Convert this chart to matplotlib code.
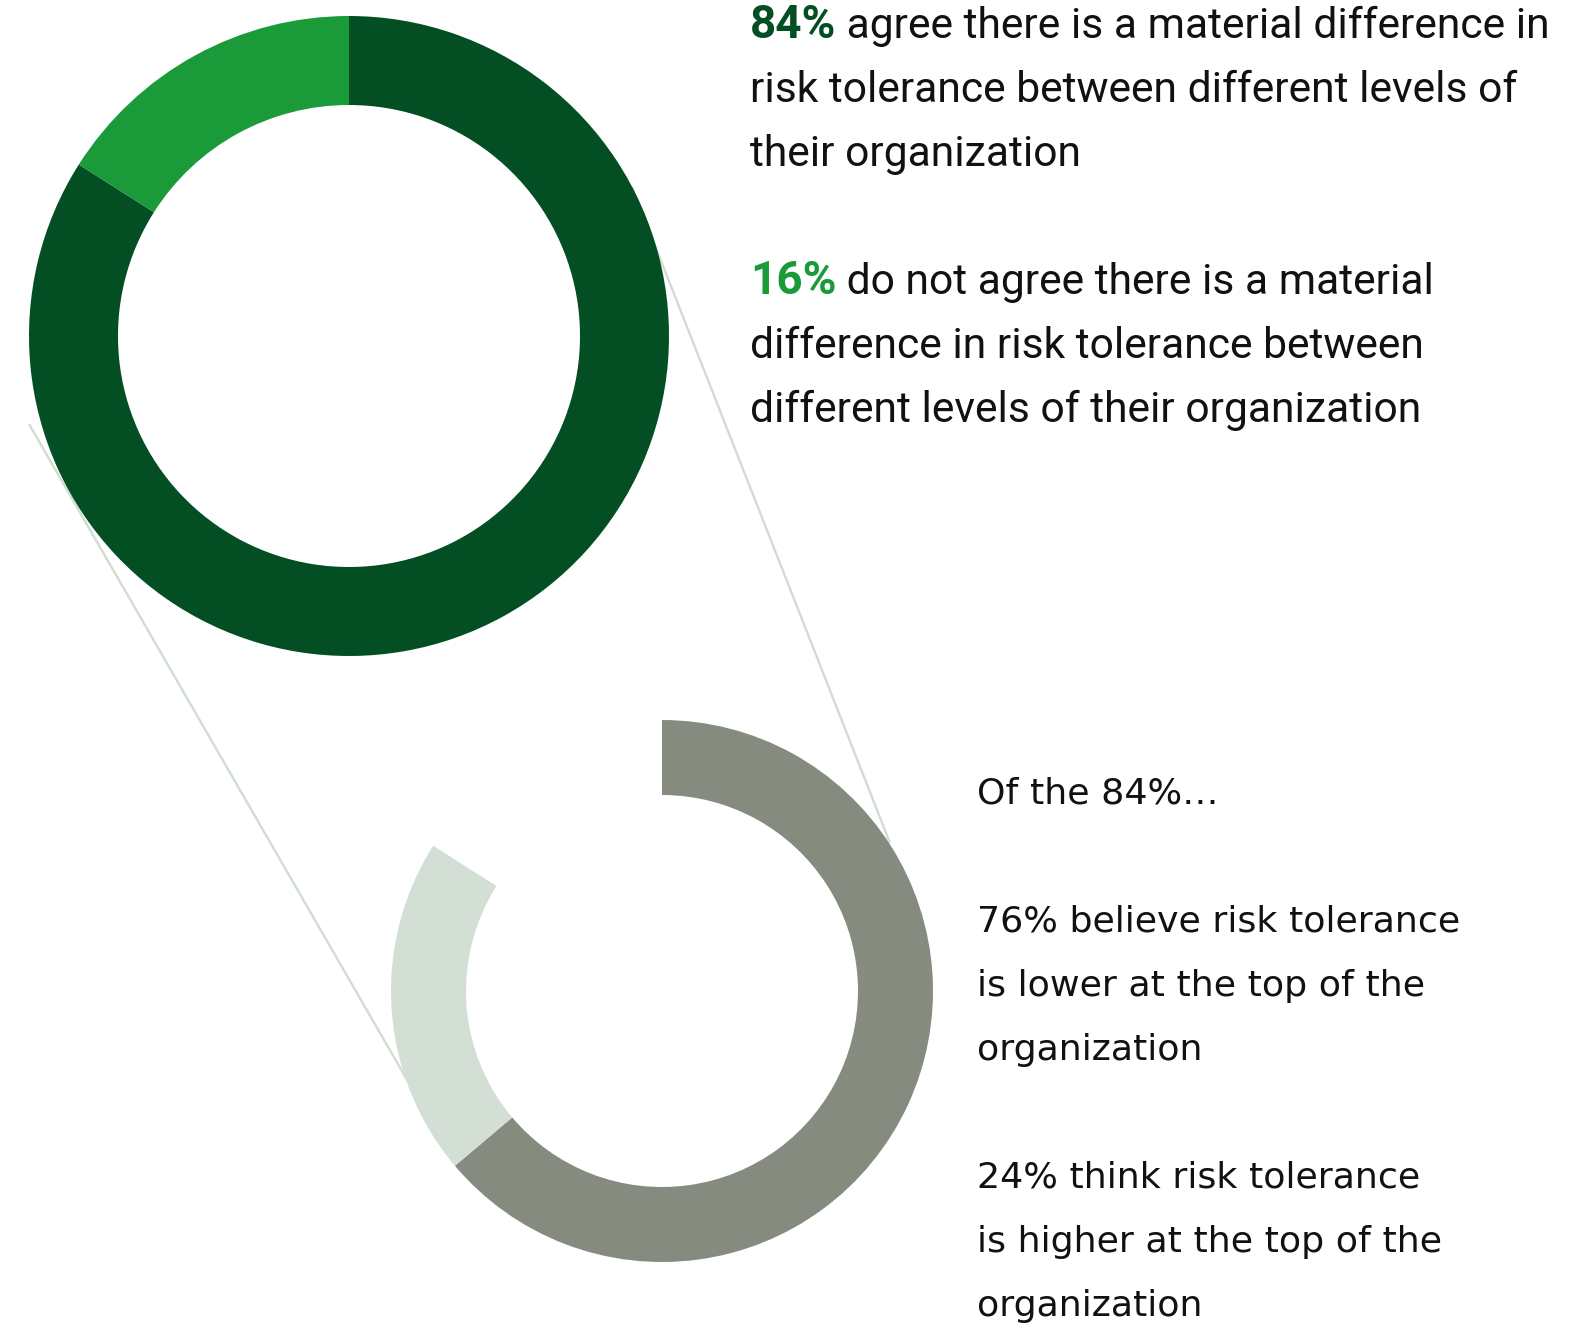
import matplotlib
matplotlib.use("Agg")
import matplotlib.pyplot as plt

W, H = 1569, 1332

# survey shares (percent)
agree_split = [84, 16]
top_colors = ["#034f23", "#1a9a38"]

# breakdown of the 84% who agree
direction_split = [76, 24]
bottom_colors = ["#868b7f", "#d3dfd5"]

top_lead = ["84%", "16%"]
top_lead_colors = ["#034f23", "#1a9a38"]
top_lines = [
    [" agree there is a material difference in",
     "risk tolerance between different levels of",
     "their organization"],
    [" do not agree there is a material",
     "difference in risk tolerance between",
     "different levels of their organization"],
]
bottom_lines = [
    "Of the 84%\u2026",
    "",
    "76% believe risk tolerance",
    "is lower at the top of the",
    "organization",
    "",
    "24% think risk tolerance",
    "is higher at the top of the",
    "organization",
]

TOP_FONT = "Roboto"
BOTTOM_FONT = "DejaVu Sans"


def py(y):
    return H - y


fig = plt.figure(figsize=(W / 100, H / 100), dpi=100)
ax = fig.add_axes([0, 0, 1, 1])

# connector lines between the two rings
line_kw = dict(color="#d0ddd2", linewidth=1.7, zorder=0, solid_capstyle="butt")
ax.plot([29, 410], [py(424), py(1085)], **line_kw)
ax.plot([632, 890], [py(187), py(843)], **line_kw)

# top ring: agree vs. not agree
ax.pie(agree_split, colors=top_colors, startangle=90, counterclock=False,
       radius=320, center=(349, py(336)),
       wedgeprops=dict(width=89, edgecolor="none"))

# bottom ring: the agree share split by direction, rest left blank
agree = agree_split[0]
shares = [d * agree / 100 for d in direction_split] + [100 - agree]
ax.pie(shares, colors=bottom_colors + ["none"], startangle=90, counterclock=False,
       radius=271, center=(662, py(991)),
       wedgeprops=dict(width=75, edgecolor="none"))

ax.set_xlim(0, W)
ax.set_ylim(0, H)
ax.set_aspect("equal")
ax.axis("off")

renderer = fig.canvas.get_renderer()
inv = ax.transData.inverted()

# right-hand notes for the top ring
top_size = 30.7
x0 = 750
for block, base in zip(range(2), [38, 294]):
    lead = ax.text(x0, py(base), top_lead[block], fontsize=33, fontweight="bold",
                   color=top_lead_colors[block], family=TOP_FONT, va="baseline", ha="left")
    bb = lead.get_window_extent(renderer)
    x_end = inv.transform((bb.x1, bb.y0))[0]
    for i, line in enumerate(top_lines[block]):
        x = x_end if i == 0 else x0
        ax.text(x, py(base + 64 * i), line, fontsize=top_size, color="#111111",
                family=TOP_FONT, va="baseline", ha="left")

# notes for the bottom ring
for i, line in enumerate(bottom_lines):
    if line:
        ax.text(977, py(804 + 64 * i), line, fontsize=26.2, color="#111111",
                family=BOTTOM_FONT, va="baseline", ha="left")

fig.savefig("out.png", dpi=100, facecolor="white")
